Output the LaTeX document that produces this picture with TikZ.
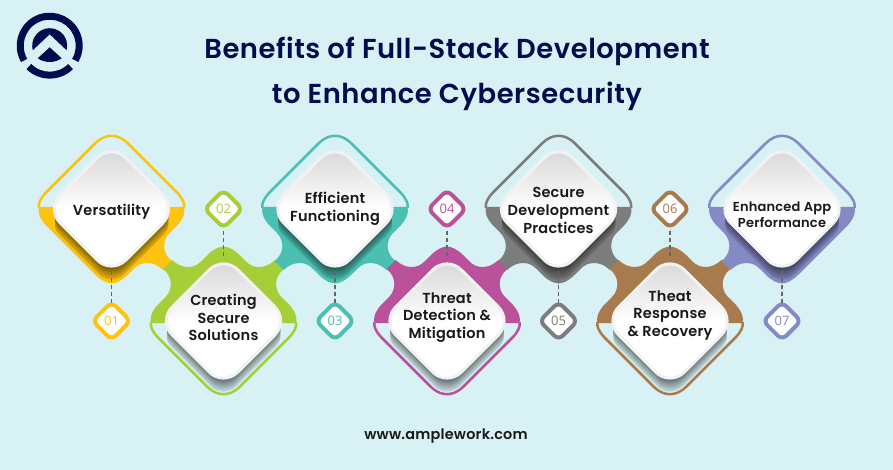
\documentclass[tikz,border=0pt]{standalone}
\usepackage{fontspec}
\setmainfont{Poppins}
\newfontfamily\labelfont[UprightFont=* SemiBold,LetterSpace=1.5]{Poppins}
\newfontfamily\titlefont[UprightFont=* SemiBold,LetterSpace=2]{Poppins}
\newfontfamily\badgefont{Open Sans}
\usetikzlibrary{shapes.geometric}

\definecolor{bgcol}{HTML}{D8F1F5}
\definecolor{navy}{HTML}{020B4E}
\definecolor{stepa}{HTML}{FEC30E}
\definecolor{stepb}{HTML}{A6CE39}
\definecolor{stepc}{HTML}{4BC0B2}
\definecolor{stepd}{HTML}{B9519B}
\definecolor{stepe}{HTML}{7C7D7D}
\definecolor{stepf}{HTML}{A87B4F}
\definecolor{stepg}{HTML}{8589C4}

\newcommand{\halfjoin}{(-.5,-2) -- (72.5,-2) .. controls (74,3) and (72,9) .. (66,16) -- (58,24)
  .. controls (51,31) and (50,44) .. (60.5,52) -- (51.5,61)
  .. controls (46,56) and (41,54) .. (35.5,54) .. controls (30,54) and (26,56) .. (22,60)
  -- (16,66) .. controls (10,72) and (4,74.5) .. (-.5,74.5) -- cycle}
\newcommand{\halfplain}{(-.5,-2) -- (72.5,-2) .. controls (74,3) and (72,9) .. (66,16)
  -- (16,66) .. controls (10,72) and (4,74.5) .. (-.5,74.5) -- cycle}

\tikzset{
  card/.style={diamond,aspect=1,minimum width=132pt,minimum height=132pt,inner sep=0pt,
    rounded corners=20pt,draw=white!95!black,line width=3pt,
    top color=black!17,bottom color=white,middle color=white},
  badge/.style={diamond,aspect=1,minimum width=39.5pt,minimum height=39.5pt,inner sep=0pt,
    rounded corners=6pt,fill=white,line width=4pt,font=\badgefont\fontsize{13}{13}\selectfont},
  cardtext/.style={align=center,text=black!90,font=\labelfont\fontsize{14.5}{17.6}\selectfont},
  rim/.style={line width=2.5pt},
  linkdash/.style={dashed,dash pattern=on 4pt off 3pt,line width=1.5pt,draw=black!60},
  logoline/.style={navy,line width=7pt}
}

\begin{document}
\begin{tikzpicture}[x=1pt,y=-1pt]
\fill[bgcol] (0,0) rectangle (893,470);
\useasboundingbox (0,0) rectangle (893,470);

% logo
\begin{scope}[shift={(49.7,45.7)}]
\draw[logoline] (150:29.5) arc (150:390:29.5);
\draw[logoline] (45:29.5) arc (45:135:29.5);
\fill[navy] (165:17.5) arc (165:375:17.5) -- (0,-11.4) -- cycle;
\fill[navy] (0,1.6) -- (12,12.6) .. controls (5,17.5) and (-5,17.5) .. (-12,12.6) -- cycle;
\end{scope}

\node[font=\titlefont\fontsize{27.4}{45}\selectfont,text=navy,align=center] (title) at (457,73.5)
  {Benefits of Full-Stack Development\\to Enhance Cybersecurity};

\foreach \i/\cx/\fl/\col/\lefthalf/\righthalf/\ty/\badgey/\cy/\txt in {
  1/111.5/1/stepa/\halfplain/\halfjoin/212/321/209/{Versatility},
  2/223.5/-1/stepb/\halfjoin/\halfjoin/317.5/209/321/{Creating\\Secure\\Solutions},
  3/335/1/stepc/\halfjoin/\halfjoin/208.5/321/209/{Efficient\\Functioning},
  4/447/-1/stepd/\halfjoin/\halfjoin/317.5/209/321/{Threat\\Detection \&\\Mitigation},
  5/558.5/1/stepe/\halfjoin/\halfjoin/210.5/321/209/{Secure\\Development\\Practices},
  6/670/-1/stepf/\halfjoin/\halfjoin/315.5/209/321/{Theat\\Response\\\& Recovery},
  7/782/1/stepg/\halfjoin/\halfplain/0/321/209/{}}{

  % band and rim
  \begin{scope}[shift={(\cx,\cy)},xscale=\fl,yscale=\fl]
    \fill[\col] \righthalf;
    \begin{scope}[xscale=-1]
      \fill[\col] \lefthalf;
    \end{scope}
    \draw[\col,rim] (-72.5,-1) .. controls (-73.5,-5) and (-71.5,-10) .. (-66,-16) -- (-16,-66)
      .. controls (-10,-71.5) and (-5,-73.2) .. (0,-73.2) .. controls (5,-73.2) and (10,-71.5) .. (16,-66)
      -- (66,-16) .. controls (71.5,-10) and (73.5,-5) .. (72.5,-1);
  \end{scope}

  % stepped shadow under the card
  \ifodd\i
    \colorlet{nearcol}{\col!45!black}\colorlet{farcol}{\col!88!black}
  \else
    \colorlet{nearcol}{black!55!bgcol}\colorlet{farcol}{black!12!bgcol}
  \fi
  \begin{scope}[shift={(\cx,\cy)}]
    \clip (-56.5,0) rectangle (56.5,80);
    \foreach \s in {13,12,...,1}{
      \pgfmathtruncatemacro{\p}{100-(\s-1)*100/12}
      \fill[nearcol!\p!farcol,rounded corners=18pt] (-65,\s) -- (0,65+\s) -- (65,\s) -- (0,\s-65) -- cycle;
    }
  \end{scope}

  \node[card] (card\i) at (\cx,\cy) {};
  \node[badge,draw=\col,text=\col] (badge\i) at (\cx,\badgey) {0\i};
  \ifodd\i
    \draw[linkdash,shorten <=-6pt,shorten >=-4pt] (card\i.south) -- (badge\i.north);
  \else
    \draw[linkdash,shorten >=-2pt] (badge\i.south) -- (card\i.north);
  \fi
  \ifnum\i<7
    \node[cardtext] (text\i) at (\cx,\ty) {\txt};
  \fi
}

\node[cardtext,font=\labelfont\fontsize{13}{15.5}\selectfont] (text7) at (782,214.5) {Enhanced App\\Performance};
\node[font=\labelfont\fontsize{14.4}{14}\selectfont,text=black!90] (site) at (446,436) {www.amplework.com};

\end{tikzpicture}
\end{document}
